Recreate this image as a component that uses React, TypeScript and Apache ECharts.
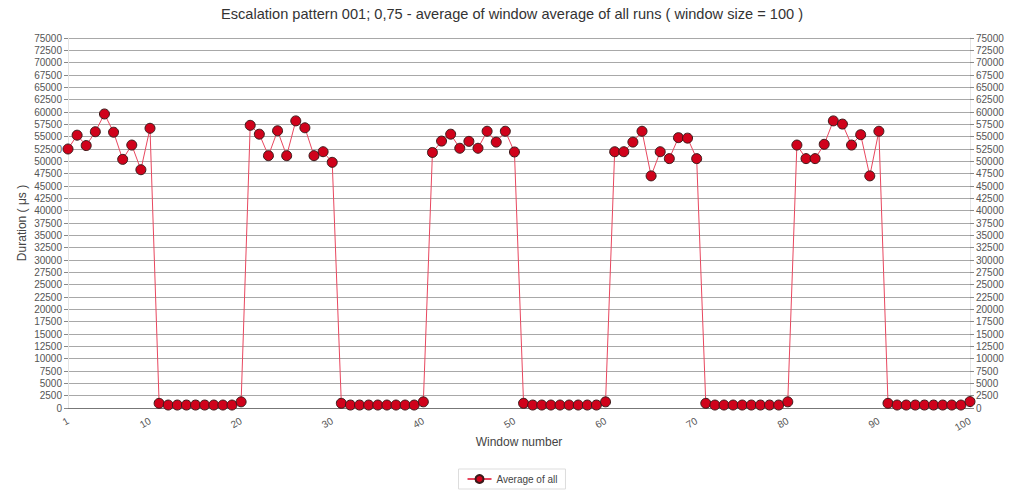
import React, { useEffect, useRef } from "react";
import * as echarts from "echarts";

const titleText = "Escalation pattern 001; 0,75 - average of window average of all runs ( window size = 100 )";
const seriesName = "Average of all";
const xAxisName = "Window number";
const yAxisName = "Duration ( μs )";
const xLabelsShown = [1, 10, 20, 30, 40, 50, 60, 70, 80, 90, 100];

const windows: number[] = Array.from({ length: 100 }, (_, i) => i + 1);

const group1 = [52500, 55300, 53200, 56000, 59600, 55900, 50400, 53300, 48300, 56700];
const low1 = [950, 600, 600, 600, 600, 600, 600, 600, 600, 1250];
const group2 = [57300, 55500, 51150, 56200, 51150, 58200, 56800, 51150, 51950, 49800];
const low2 = [950, 600, 600, 600, 600, 600, 600, 600, 600, 1250];
const group3 = [51800, 54100, 55500, 52650, 54050, 52650, 56100, 53900, 56100, 51900];
const low3 = [950, 600, 600, 600, 600, 600, 600, 600, 600, 1250];
const group4 = [51950, 51950, 53900, 56100, 47050, 51950, 50550, 54800, 54700, 50550];
const low4 = [950, 600, 600, 600, 600, 600, 600, 600, 600, 1250];
const group5 = [53300, 50550, 50550, 53450, 58200, 57550, 53300, 55400, 47050, 56100];
const low5 = [950, 600, 600, 600, 600, 600, 600, 600, 600, 1300];

const values: number[] = [
  ...group1, ...low1, ...group2, ...low2, ...group3, ...low3,
  ...group4, ...low4, ...group5, ...low5,
];

export default function App() {
  const ref = useRef<HTMLDivElement>(null);
  useEffect(() => {
    if (!ref.current) return;
    const chart = echarts.init(ref.current, null, { renderer: "svg" });
    const font = "Liberation Sans, Arial, sans-serif";
    const yCommon = {
      type: "value" as const,
      min: 0,
      max: 75000,
      interval: 2500,
      axisLabel: { color: "#555", fontSize: 10, fontFamily: font, margin: 6, formatter: (v: number) => String(v) },
      axisTick: { show: true, length: 4, lineStyle: { color: "#888" } },
      axisLine: { show: true, lineStyle: { color: "#e4e4e4" } },
    };
    chart.setOption({
      animation: false,
      title: {
        text: titleText,
        left: "center",
        top: 1,
        textStyle: { fontSize: 14.6, fontWeight: "normal", color: "#333", fontFamily: font },
      },
      legend: {
        bottom: 4,
        left: "center",
        data: [seriesName],
        borderColor: "#ddd",
        borderWidth: 1,
        padding: [5, 8],
        itemWidth: 24,
        itemHeight: 10,
        textStyle: { fontSize: 10, color: "#444", fontFamily: font },
      },
      grid: { left: 68, right: 54, top: 38, bottom: 85, containLabel: false },
      xAxis: {
        type: "category",
        data: windows.map(String),
        boundaryGap: false,
        name: xAxisName,
        nameLocation: "middle",
        nameGap: 28,
        nameMoveOverlap: false,
        nameTextStyle: { fontSize: 12, color: "#444", fontFamily: font },
        axisLine: { show: true, lineStyle: { color: "#777" } },
        axisTick: { show: false },
        axisLabel: {
          interval: (idx: number) => xLabelsShown.includes(windows[idx]),
          rotate: 30,
          color: "#555",
          fontSize: 10,
          fontFamily: font,
          margin: 12,
        },
        splitLine: { show: false },
      },
      yAxis: [
        {
          ...yCommon,
          position: "left",
          name: yAxisName,
          nameLocation: "middle",
          nameGap: 40,
          nameMoveOverlap: false,
          nameTextStyle: { fontSize: 12, color: "#444", fontFamily: font },
          splitLine: { show: true, lineStyle: { color: "#a8a8a8", width: 1 } },
        },
        {
          ...yCommon,
          position: "right",
          splitLine: { show: false },
        },
      ],
      series: [
        {
          name: seriesName,
          type: "line",
          data: values,
          yAxisIndex: 0,
          symbol: "circle",
          symbolSize: 10,
          showAllSymbol: true,
          lineStyle: { color: "#e8475f", width: 1 },
          itemStyle: { color: "#d0021b", borderColor: "#3a1a1a", borderWidth: 1 },
        },
      ],
    });
    return () => chart.dispose();
  }, []);
  return (
    <div
      ref={ref}
      style={{ position: "absolute", left: 0, top: 0, width: 1024, height: 493 }}
    />
  );
}
